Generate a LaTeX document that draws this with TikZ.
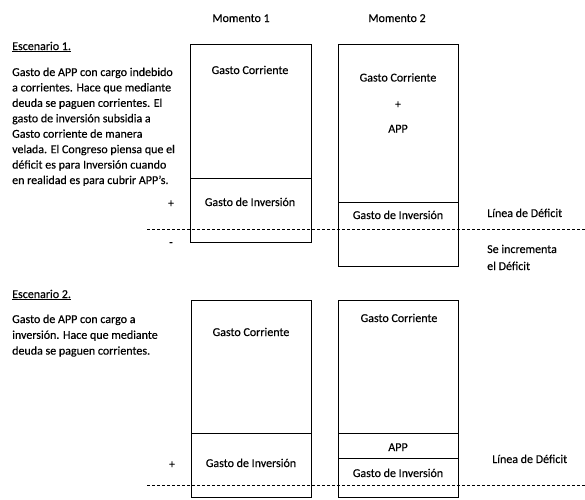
\documentclass[tikz,border=0pt]{standalone}
\usepackage{fontspec}
\setmainfont{Carlito}[FakeBold=0.3]
\begin{document}
\begin{tikzpicture}[x=1pt,y=-1pt,
  every node/.style={inner sep=0pt, font=\fontsize{12}{14}\selectfont},
  box/.style={draw=black, line width=1pt},
  lbl/.style={anchor=base},
  para/.style={anchor=base west},
  defline/.style={draw=black, line width=1pt, dash pattern=on 3pt off 2pt}]
\useasboundingbox (0,0) rectangle (585,499);

% headings
\node[lbl] (m1) at (241,22) {Momento 1};
\node[lbl] (m2) at (397,22) {Momento 2};

% Scenario 1 text
\node[para] (e1) at (12,50) {\underline{Escenario 1.}};
\foreach \t [count=\i] in {Gasto de APP con cargo indebido,
  a corrientes. Hace que mediante,
  deuda se paguen corrientes. El,
  gasto de inversión subsidia a,
  Gasto corriente de manera,
  velada. El Congreso piensa que el,
  déficit es para Inversión cuando,
  en realidad es para cubrir APP’s.}
  \node[para] (s1l\i) at (12,{76+15.43*(\i-1)}) {\t};

% Scenario 1 boxes
\draw[box] (190,44) rectangle (311,242);
\draw[box] (190,178) -- (311,178);
\node[lbl] (b1gc) at (250,74) {Gasto Corriente};
\node[lbl] (b1gi) at (250,206) {Gasto de Inversión};

\draw[box] (338,44) rectangle (458,266);
\draw[box] (338,202) -- (458,202);
\node[lbl] (b2gc) at (398,81.5) {Gasto Corriente};
\node[lbl] (b2p) at (398,108) {+};
\node[lbl] (b2app) at (398,132.5) {APP};
\node[lbl] (b2gi) at (398,219) {Gasto de Inversión};

\node[lbl] (plus1) at (171,207) {+};
\node[lbl] (minus1) at (171,246) {-};

\coordinate (d1a) at (147,229);
\coordinate (d1b) at (585,229);
\draw[defline] (d1a) -- (d1b);

\node[para] (ld1) at (487,217) {Línea de Déficit};
\node[para] (inc1) at (487,253) {Se incrementa};
\node[para] (inc2) at (487,270) {el Déficit};

% Scenario 2 text
\node[para] (e2) at (12,298) {\underline{Escenario 2.}};
\foreach \t [count=\i] in {Gasto de APP con cargo a,
  inversión. Hace que mediante,
  deuda se paguen corrientes.}
  \node[para] (s2l\i) at (12,{323+15.8*(\i-1)}) {\t};

% Scenario 2 boxes
\draw[box] (191,300) rectangle (311,497);
\draw[box] (191,433) -- (311,433);
\node[lbl] (b3gc) at (251,336) {Gasto Corriente};
\node[lbl] (b3gi) at (251,467) {Gasto de Inversión};

\draw[box] (338,300) rectangle (458,497);
\draw[box] (338,433) -- (458,433);
\draw[box] (338,458) -- (458,458);
\node[lbl] (b4gc) at (399,322) {Gasto Corriente};
\node[lbl] (b4app) at (398,451) {APP};
\node[lbl] (b4gi) at (398,477) {Gasto de Inversión};

\node[lbl] (plus2) at (172,468) {+};

\coordinate (d2a) at (147,485);
\coordinate (d2b) at (585,485);
\draw[defline] (d2a) -- (d2b);

\node[para] (ld2) at (492,463) {Línea de Déficit};
\end{tikzpicture}
\end{document}
